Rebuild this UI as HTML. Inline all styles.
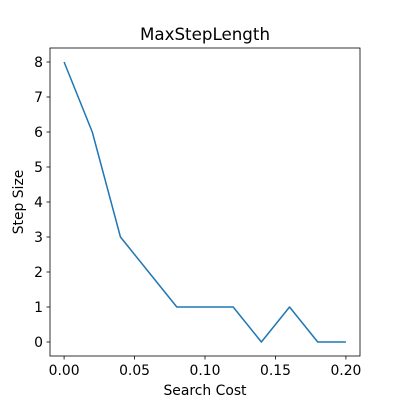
<!DOCTYPE html>
<html><head><meta charset="utf-8">
<style>
html,body{margin:0;padding:0;background:#fff;}
svg{display:block;font-family:"DejaVu Sans","Liberation Sans",sans-serif;}
</style></head>
<body>
<svg id="chart" width="400" height="400">
  <rect width="400" height="400" fill="#fff"/>
  <text x="205" y="40" text-anchor="middle" font-size="16.7">MaxStepLength</text>
  <g id="xt"></g>
  <g id="yt"></g>
  <polyline id="line" fill="none" stroke="#1f77b4" stroke-width="1.5" stroke-linejoin="round"/>
  <rect x="50" y="48" width="310" height="308" fill="none" stroke="#000" stroke-width="0.8"/>
  <text x="205" y="395" text-anchor="middle" font-size="13.9">Search Cost</text>
  <text transform="translate(23,202) rotate(-90)" text-anchor="middle" font-size="13.9">Step Size</text>
</svg>
<script>
const xValues = [0, 0.02, 0.04, 0.06, 0.08, 0.10, 0.12, 0.14, 0.16, 0.18, 0.20];
const yValues = [8, 6, 3, 2, 1, 1, 1, 0, 1, 0, 0];
const xTicks = [0, 0.05, 0.10, 0.15, 0.20];
const xTickLabels = ["0.00", "0.05", "0.10", "0.15", "0.20"];
const yTicks = [0, 1, 2, 3, 4, 5, 6, 7, 8];

const L=50,R=360,T=48,B=356;
const xmin=-0.01,xmax=0.21,ymin=-0.4,ymax=8.4;
function sx(v){return L+(v-xmin)/(xmax-xmin)*(R-L);}
function sy(v){return B-(v-ymin)/(ymax-ymin)*(B-T);}
const NS="http://www.w3.org/2000/svg";
const xt=document.getElementById('xt'), yt=document.getElementById('yt');
xTicks.forEach((v,i)=>{
  const l=document.createElementNS(NS,'line');
  l.setAttribute('x1',sx(v));l.setAttribute('x2',sx(v));l.setAttribute('y1',B);l.setAttribute('y2',B+3.5);
  l.setAttribute('stroke','#000');l.setAttribute('stroke-width','0.8');
  
  
  xt.appendChild(l);
  const t=document.createElementNS(NS,'text');
  t.setAttribute('x',sx(v));t.setAttribute('y',B+19);t.setAttribute('text-anchor','middle');t.setAttribute('font-size','13.9');
  t.textContent=xTickLabels[i];
  
  
  xt.appendChild(t);
});
yTicks.forEach(v=>{
  const l=document.createElementNS(NS,'line');
  l.setAttribute('x1',L-3.5);l.setAttribute('x2',L);l.setAttribute('y1',sy(v));l.setAttribute('y2',sy(v));
  l.setAttribute('stroke','#000');l.setAttribute('stroke-width','0.8');
  
  
  yt.appendChild(l);
  const t=document.createElementNS(NS,'text');
  t.setAttribute('x',L-7);t.setAttribute('y',sy(v)+5);t.setAttribute('text-anchor','end');t.setAttribute('font-size','13.9');
  t.textContent=String(v);
  
  
  yt.appendChild(t);
});
document.getElementById('line').setAttribute('points', xValues.map((x,i)=>sx(x)+','+sy(yValues[i])).join(' '));
</script>
</body></html>
